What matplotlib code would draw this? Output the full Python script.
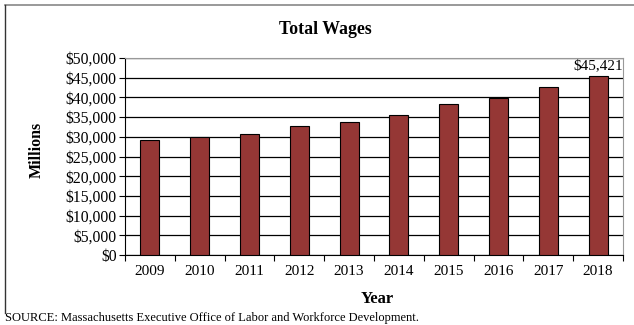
import matplotlib.pyplot as plt
from matplotlib.lines import Line2D
from matplotlib.ticker import FuncFormatter

# Total wages in millions of dollars
years = ["2009", "2010", "2011", "2012", "2013", "2014", "2015", "2016", "2017", "2018"]
wages = [29200, 30050, 30800, 32700, 33800, 35500, 38300, 39800, 42700, 45421]
y_ticks = [0, 5000, 10000, 15000, 20000, 25000, 30000, 35000, 40000, 45000, 50000]

plt.rcParams["font.family"] = ["Liberation Serif", "DejaVu Serif"]

W, H = 634, 325
fig = plt.figure(figsize=(W / 100, H / 100), dpi=100)
ax = fig.add_axes([125 / W, 1 - 255 / H, (623 - 125) / W, (255 - 58) / H])

x = list(range(len(years)))
ax.bar(x, wages, width=0.38, color="#953735", edgecolor="black", linewidth=0.8, zorder=3)

ax.set_xlim(-0.5, len(years) - 0.5)
ax.set_ylim(0, 50000)
ax.set_yticks(y_ticks)
ax.yaxis.set_major_formatter(FuncFormatter(lambda v, p: "${:,.0f}".format(v)))
ax.set_xticks(x)
ax.set_xticklabels(years)
ax.set_xticks([i - 0.5 for i in range(len(years) + 1)], minor=True)
ax.tick_params(axis="x", which="major", length=0, labelsize=11, pad=7)
ax.tick_params(axis="x", which="minor", length=4, width=0.8, direction="out")
ax.tick_params(axis="y", length=4, width=0.8, direction="out", labelsize=11.3, pad=2)

ax.grid(axis="y", color="black", linewidth=0.9, zorder=0)
for side in ["top", "right"]:
    ax.spines[side].set_color("#999999")
for side in ["left", "bottom"]:
    ax.spines[side].set_color("black")

ax.text(x[-1], wages[-1] + 900, "${:,}".format(wages[-1]), ha="center", va="bottom", fontsize=11)

fig.text(325 / W, 1 - 30 / H, "Total Wages", ha="center", va="center", fontsize=12.8, fontweight="bold")
fig.text(37 / W, 1 - 150 / H, "Millions", ha="center", va="center", rotation=90,
         fontsize=11.5, fontweight="bold")
fig.text(377 / W, 1 - 299 / H, "Year", ha="center", va="center", fontsize=12, fontweight="bold")
fig.text(5 / W, 1 - 324 / H, "SOURCE: Massachusetts Executive Office of Labor and Workforce Development.",
         ha="left", va="bottom", fontsize=9)

# outer frame of the chart box
fig.add_artist(Line2D([5 / W, 1], [1 - 5 / H, 1 - 5 / H], color="#888888", linewidth=1.2))
fig.add_artist(Line2D([5 / W, 5 / W], [1 - 5 / H, 1 - 313 / H], color="#333333", linewidth=1.0))

fig.savefig("out.png", dpi=100)
